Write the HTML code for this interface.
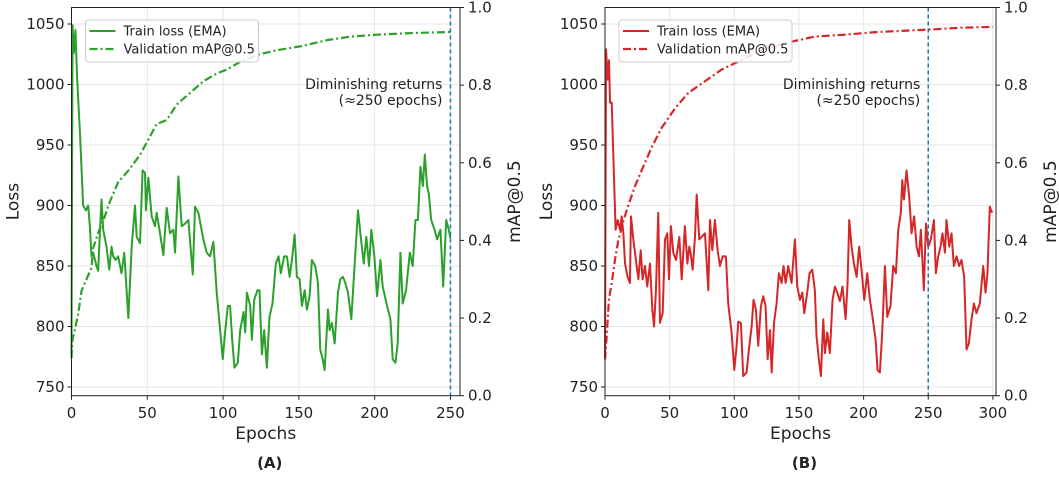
<!DOCTYPE html>
<html><head><meta charset="utf-8"><style>
body{margin:0;background:#fff;}
svg text{font-family:"DejaVu Sans","Liberation Sans",sans-serif;fill:#222;}
</style></head><body>
<svg id="chart" width="1059" height="482" viewBox="0 0 1059 482" xmlns="http://www.w3.org/2000/svg"></svg>
<script>
const lossTicks=[750,800,850,900,950,1000,1050];
const mapTicks=[0.0,0.2,0.4,0.6,0.8,1.0];
const epochTicksA=[0,50,100,150,200,250];
const epochTicksB=[0,50,100,150,200,250,300];
const markerEpoch=250;

const lossEpochsA=[0,0.7,1.5,2.6,3.7,5.5,7.7,9.5,11,12.1,13.2,14.3,16.5,17.6,18.7,19.8,20.9,23.1,24.9,26.4,27.5,29.1,30.8,33,34.8,37.5,39.7,41.9,43,45.2,46.9,48.5,49.1,50.7,52.9,55.1,56.2,58.4,60.6,62.8,65,67.2,68.3,70.5,72.7,74.9,77.1,80,81.5,83.7,87,89.2,91.4,93.6,95.8,99.8,101.3,103.1,104.6,106.2,107.5,109.7,111.3,113.5,114.6,115.7,117.9,119,120.5,122.7,124,125.6,127.1,128.9,130.6,132.6,134.8,136.6,138.1,140.3,142.1,143.9,145.4,147.2,148.7,150.5,152,153.8,155.3,157.1,158.6,160.8,162.6,164.1,165.7,167,169.2,170.3,171.8,173.6,175.8,177.3,179.1,180.6,182.4,184.6,186.2,189,191,192.8,194.5,196.3,197.8,199.8,201.6,203.8,205.3,208.2,210.4,211.9,213.7,215.2,217,218.5,220.7,223.2,225.1,226.9,228.5,230.2,231.8,233.1,234.6,235.7,237.3,239.5,241.2,243.4,245.2,247.2,248.9,250];
const lossValuesA=[774,1049,1026,1045,1005,962,900,896,900,883,858,861,850,846,877,905,880,866,847,866,858,855,858,844,861,807,866,900,874,869,929,927,896,923,891,883,894,877,859,898,877,880,861,924,883,885,888,843,899,894,872,861,858,870,828,773,795,817,817,786,766,770,797,812,795,828,817,789,822,830,830,777,797,766,808,819,852,858,844,858,858,841,855,876,841,839,817,830,814,825,855,850,836,781,773,764,814,797,803,786,828,839,841,836,828,806,839,896,872,852,874,850,880,858,825,855,833,817,806,773,770,786,861,819,830,861,850,888,888,932,916,942,916,910,888,880,872,880,833,888,880,873];
const mapEpochsA=[0,0.7,2.2,4.4,6.6,9.9,13.2,14.3,17.6,20.9,25.3,30.8,37.5,45.2,50.7,56.2,62.8,69.4,78.2,87,95.8,102.4,111.3,124.5,135.5,151,168.6,184,201.6,223.6,250];
const mapValuesA=[0.097,0.145,0.17,0.21,0.27,0.30,0.33,0.38,0.42,0.45,0.50,0.55,0.58,0.62,0.66,0.70,0.71,0.75,0.78,0.81,0.83,0.84,0.86,0.88,0.89,0.90,0.916,0.925,0.93,0.934,0.937];

const lossEpochsB=[0,0.8,2.1,3.1,3.9,5.2,6.4,8.2,9.8,11.6,12.9,14.2,15.5,17.5,19.3,20.1,21.9,24.5,25.8,27.6,29.1,30.9,32.7,34.8,36.6,37.9,39.4,41.2,42.5,44.6,46.4,48.2,49.5,51,52.8,54.9,57.5,59.3,61.8,63.7,65.2,66.2,67.8,69.6,70.9,72.9,74.7,77.3,79.9,81.2,83,85,87.1,88.9,91,93.5,95.3,97.9,100,101.8,103.1,105.1,106.9,109.5,111.3,113.4,114.9,116.7,118.5,120.6,122.4,124.2,125.8,127.6,128.9,130.7,132.7,134.5,136.6,138.1,139.7,141.7,144.3,146.9,148.7,150.8,152.6,154.1,156.4,158.2,160.3,162.3,163.6,165.4,167,168.8,170.1,171.9,173.9,176,177.8,179.6,181.7,183.7,186.1,187.6,188.9,190.7,192.5,194.6,196.6,198.4,200.5,202.8,204.9,206.9,209.3,210.8,212.6,214.4,216.5,218.3,220.8,222.9,225,226.8,228.8,229.9,231.2,233.2,235.3,237.1,239.1,241,242.8,244.3,246.6,248.2,250,252,254.4,255.9,257.7,259.5,261,262.9,264.1,266.2,268,269.8,271.9,273.9,275.7,277.8,279.6,281.4,283.5,285.3,287.3,289.9,292.5,294.3,295.8,297.6,299.4];
const lossValuesB=[773,1029,1004,1020,985,985,943,880,888,880,891,877,852,841,836,891,872,850,839,863,839,850,833,852,814,800,830,894,803,811,872,877,839,883,861,855,874,839,883,852,866,861,847,874,909,872,874,877,830,888,863,888,863,850,858,858,819,795,764,784,804,803,759,762,781,800,822,814,784,817,825,817,773,797,762,803,819,844,836,850,836,850,836,872,833,822,828,811,828,844,847,830,792,773,759,806,778,795,778,822,833,828,821,833,806,836,888,866,852,841,866,847,822,844,822,808,789,764,762,795,850,808,817,850,844,880,894,921,905,929,907,877,891,866,858,880,830,885,866,872,888,844,858,866,877,861,888,866,877,850,858,850,855,841,781,786,806,819,811,819,850,828,844,899,894];
const mapEpochsB=[0,1.3,3.1,5.2,7.7,10.3,14.2,18,23.2,28.3,36.1,43.8,54.1,64.4,77.3,90.2,105.7,121,141.7,162,185.5,211,250,275.7,300];
const mapValuesB=[0.093,0.153,0.25,0.29,0.35,0.40,0.45,0.49,0.54,0.58,0.64,0.69,0.74,0.78,0.81,0.84,0.865,0.89,0.91,0.925,0.93,0.937,0.943,0.948,0.95];

const svg=document.getElementById('chart');
const NS='http://www.w3.org/2000/svg';
function mk(tag,attrs,parent,text){const e=document.createElementNS(NS,tag);for(const k in attrs)e.setAttribute(k,attrs[k]);if(text!==undefined)e.textContent=text;(parent||svg).appendChild(e);return e;}

function panel(cfg){
  const g=mk('g',{});
  
  
  const L=cfg.left,R=cfg.right,T=7.5,B=395.7;
  const xs=e=>L+(e-0)*(R-L)/(cfg.xmax);
  const ys=v=>24+(1050-v)*(387-24)/300;
  const ym=m=>B-m*(B-T);
  cfg.xticks.forEach(t=>{const l=mk('line',{x1:xs(t),x2:xs(t),y1:T,y2:B,stroke:'#e6e6e6','stroke-width':1},g);});
  lossTicks.forEach(t=>{const l=mk('line',{x1:L,x2:R,y1:ys(t),y2:ys(t),stroke:'#e6e6e6','stroke-width':1},g);});
  const lp=mk('polyline',{points:cfg.le.map((e,i)=>xs(e)+','+ys(cfg.lv[i])).join(' '),fill:'none',stroke:cfg.color,'stroke-width':2,'stroke-linejoin':'round'},g);
  
  
  const mp=mk('polyline',{points:cfg.me.map((e,i)=>xs(e)+','+ym(cfg.mv[i])).join(' '),fill:'none',stroke:cfg.color,'stroke-width':2.2,'stroke-dasharray':'8,3,2,3'},g);
  
  
  const vl=mk('line',{x1:xs(markerEpoch),x2:xs(markerEpoch),y1:T,y2:B,stroke:'#1f77b4','stroke-width':1.5,'stroke-dasharray':'4,3'},g);
  
  
  const a1=mk('text',{x:xs(markerEpoch)-8,y:89,'font-size':14,'text-anchor':'end'},g,'Diminishing returns');
  
  
  mk('text',{x:xs(markerEpoch)-8,y:105,'font-size':14,'text-anchor':'end'},g,'(≈250 epochs)');
  const fr=mk('rect',{x:L,y:T,width:R-L,height:B-T,fill:'none',stroke:'#222','stroke-width':1},g);
  
  
  cfg.xticks.forEach(t=>{mk('line',{x1:xs(t),x2:xs(t),y1:B,y2:B+4,stroke:'#222'},g);const tx=mk('text',{x:xs(t),y:418,'font-size':15,'text-anchor':'middle'},g,String(t));});
  lossTicks.forEach(t=>{mk('line',{x1:L-4,x2:L,y1:ys(t),y2:ys(t),stroke:'#222'},g);const tx=mk('text',{x:L-7,y:ys(t)+5,'font-size':15,'text-anchor':'end'},g,String(t));});
  mapTicks.forEach(t=>{mk('line',{x1:R,x2:R+4,y1:ym(t),y2:ym(t),stroke:'#222'},g);const tx=mk('text',{x:R+8,y:ym(t)+5,'font-size':15,'text-anchor':'start'},g,t.toFixed(1));});
  const xt=mk('text',{x:(L+R)/2,y:439,'font-size':17,'text-anchor':'middle'},g,'Epochs');
  
  const yl=mk('text',{x:0,y:0,'font-size':17,'text-anchor':'middle',transform:`translate(${L-53},${(T+B)/2}) rotate(-90)`},g,'Loss');
  
  const yr=mk('text',{x:0,y:0,'font-size':17,'text-anchor':'middle',transform:`translate(${R+60},${(T+B)/2}) rotate(-90)`},g,'mAP@0.5');
  
  const pl=mk('text',{x:(L+R)/2+4,y:468,'font-size':15,'font-weight':'bold','text-anchor':'middle'},g,cfg.label);
  
  const lg=mk('g',{},g);
  
  
  const lx=L+14;
  mk('rect',{x:lx,y:20,width:173,height:42,rx:3,fill:'#fff','fill-opacity':0.85,stroke:'#ccc'},lg);
  mk('line',{x1:lx+4,x2:lx+30,y1:31,y2:31,stroke:cfg.color,'stroke-width':2},lg);
  const le1=mk('text',{x:lx+38,y:35.5,'font-size':13},lg,'Train loss (EMA)');
  
  mk('line',{x1:lx+4,x2:lx+30,y1:49,y2:49,stroke:cfg.color,'stroke-width':2.2,'stroke-dasharray':'8,3,2,3'},lg);
  const le2=mk('text',{x:lx+38,y:53.5,'font-size':13},lg,'Validation mAP@0.5');
  
}
panel({name:'panel-a',left:71.5,right:460,xmax:256.3,xticks:epochTicksA,le:lossEpochsA,lv:lossValuesA,me:mapEpochsA,mv:mapValuesA,color:'#2ca02c',label:'(A)'});
panel({name:'panel-b',left:605,right:996,xmax:302.4,xticks:epochTicksB,le:lossEpochsB,lv:lossValuesB,me:mapEpochsB,mv:mapValuesB,color:'#d62728',label:'(B)'});
</script>
</body></html>
